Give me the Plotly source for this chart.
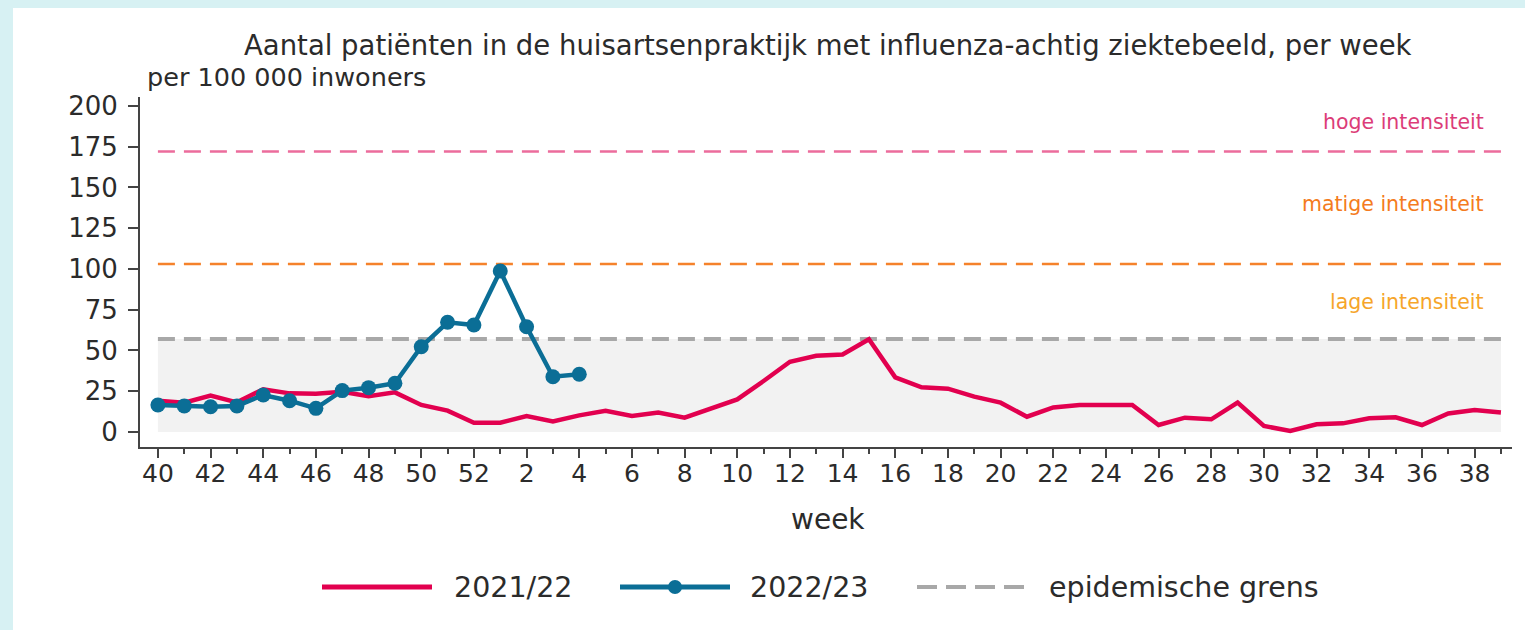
import plotly.graph_objects as go

# ---------------- data ----------------
weeks = list(range(40, 53)) + list(range(1, 40))
season_2021_22 = [19.2, 18.0, 22.3, 18.2, 26.2, 23.7, 23.5, 24.7, 22.0, 24.3,
                  16.6, 13.1, 5.7, 5.7, 9.8, 6.5, 10.2, 13.0, 9.8, 12.0,
                  8.8, 14.5, 20.0, 31.3, 43.1, 46.8, 47.6, 56.9, 33.5, 27.4,
                  26.6, 21.7, 18.0, 9.4, 15.1, 16.6, 16.6, 16.6, 4.3, 8.8,
                  7.8, 18.0, 3.7, 0.6, 4.7, 5.3, 8.4, 9.0, 4.3, 11.4,
                  13.5, 11.9]
season_2022_23 = [16.6, 16.0, 15.5, 16.0, 22.7, 19.2, 14.5, 25.4, 27.2, 29.9,
                  52.3, 67.3, 65.6, 98.8, 64.6, 33.9, 35.4]
epidemic_threshold = 57
medium_threshold = 103
high_threshold = 172
y_ticks = [0, 25, 50, 75, 100, 125, 150, 175, 200]
level_labels = ["hoge intensiteit", "matige intensiteit", "lage intensiteit"]
level_label_y = [190, 140, 80]
legend_labels = ["2021/22", "2022/23", "epidemische grens"]

# ---------------- style ----------------
RED = "#e2004f"
BLUE = "#0b6e96"
GREY = "#a8a8a8"
PINK = "#ec6c9c"
ORANGE = "#f5822b"
TXT = "#2b2b2b"
FONT = "DejaVu Sans"
level_colors = ["#dc3c78", "#f47b20", "#f6a52a"]

W, H = 1525, 630
L, R, T, B = 140, 13, 97, 183
pw, ph = W - L - R, H - T - B


def px(x):
    return (x - L) / pw


def py(y):
    return (H - B - y) / ph


pos = list(range(len(weeks)))
x_lo, x_hi = -0.68, 51.42
y_lo, y_hi = -9.2, 205.5

fig = go.Figure()

# shaded area below epidemic threshold
fig.add_shape(type="rect", xref="x", yref="y", x0=pos[0], x1=pos[-1],
              y0=0, y1=epidemic_threshold, fillcolor="#f2f2f2",
              line_width=0, layer="below")
# threshold lines
for val, col, w in [(epidemic_threshold, GREY, 4), (medium_threshold, ORANGE, 2.5),
                    (high_threshold, PINK, 2.5)]:
    fig.add_shape(type="line", xref="x", yref="y", x0=pos[0], x1=pos[-1],
                  y0=val, y1=val, line=dict(color=col, width=w, dash="17px,9px"),
                  layer="below")

fig.add_trace(go.Scatter(x=pos, y=season_2021_22, mode="lines",
                         line=dict(color=RED, width=4.5), name=legend_labels[0],
                         showlegend=False))
fig.add_trace(go.Scatter(x=pos[:len(season_2022_23)], y=season_2022_23,
                         mode="lines+markers",
                         line=dict(color=BLUE, width=4.5),
                         marker=dict(color=BLUE, size=15), name=legend_labels[1],
                         showlegend=False))

# level labels
for lab, yy, col in zip(level_labels, level_label_y, level_colors):
    fig.add_annotation(text=lab, xref="paper", yref="y", x=px(1486), y=yy,
                       xanchor="right", yanchor="middle", showarrow=False,
                       font=dict(family=FONT, size=20.5, color=col))

# title & subtitle
fig.add_annotation(text="Aantal patiënten in de huisartsenpraktijk met influenza-achtig ziektebeeld, per week",
                   xref="paper", yref="paper", x=px(828), y=py(45),
                   xanchor="center", yanchor="middle", showarrow=False,
                   font=dict(family=FONT, size=27.5, color=TXT))
fig.add_annotation(text="per 100 000 inwoners", xref="paper", yref="paper",
                   x=px(145), y=py(77), xanchor="left", yanchor="middle",
                   showarrow=False, font=dict(family=FONT, size=25.5, color=TXT))
fig.add_annotation(text="week", xref="paper", yref="paper", x=px(828), y=py(519),
                   xanchor="center", yanchor="middle", showarrow=False,
                   font=dict(family=FONT, size=28, color=TXT))

# custom legend
ly = 587
fig.add_shape(type="line", xref="paper", yref="paper", x0=px(322), x1=px(432),
              y0=py(ly), y1=py(ly), line=dict(color=RED, width=5))
fig.add_shape(type="line", xref="paper", yref="paper", x0=px(620), x1=px(730),
              y0=py(ly), y1=py(ly), line=dict(color=BLUE, width=5))
fig.add_shape(type="circle", xref="paper", yref="paper", x0=px(668), x1=px(682),
              y0=py(ly + 7), y1=py(ly - 7), fillcolor=BLUE, line_width=0)
fig.add_shape(type="line", xref="paper", yref="paper", x0=px(917), x1=px(1027),
              y0=py(ly), y1=py(ly), line=dict(color=GREY, width=4, dash="20px,9px"))
for lab, xx in zip(legend_labels, [452, 748, 1047]):
    fig.add_annotation(text=lab, xref="paper", yref="paper", x=px(xx), y=py(ly),
                       xanchor="left", yanchor="middle", showarrow=False,
                       font=dict(family=FONT, size=28.5, color=TXT))

# white panel on cyan page
fig.add_shape(type="rect", xref="paper", yref="paper", x0=px(13), x1=px(1540),
              y0=py(8), y1=py(650), fillcolor="white", line_width=0, layer="below")

even_pos = [p for p, w in zip(pos, weeks) if w % 2 == 0]
even_lab = [str(w) for w in weeks if w % 2 == 0]
odd_pos = [p for p, w in zip(pos, weeks) if w % 2 == 1]

fig.update_layout(
    width=W, height=H,
    margin=dict(l=L, r=R, t=T, b=B),
    paper_bgcolor="#d7f1f3", plot_bgcolor="white",
    showlegend=False,
    xaxis=dict(range=[x_lo, x_hi], tickmode="array", tickvals=even_pos,
               ticktext=even_lab, ticks="outside", ticklen=9, tickwidth=2,
               tickcolor="#444", showline=True, linecolor="#444", linewidth=2,
               showgrid=False, zeroline=False, ticklabelstandoff=-6,
               tickfont=dict(family=FONT, size=25, color=TXT),
               minor=dict(tickmode="array", tickvals=odd_pos, ticks="outside",
                          ticklen=5, tickwidth=2, tickcolor="#444", showgrid=False)),
    yaxis=dict(range=[y_lo, y_hi], tickmode="array", tickvals=y_ticks,
               ticks="outside", ticklen=10, tickwidth=2, tickcolor="#444",
               showline=True, linecolor="#444", linewidth=2, showgrid=False,
               zeroline=False, ticklabelstandoff=5,
               tickfont=dict(family=FONT, size=26, color=TXT)),
)

fig.write_html("out.html", config={"displayModeBar": False},
               post_script="document.body.style.margin='0';document.body.style.padding='0';document.body.style.overflow='hidden';")
